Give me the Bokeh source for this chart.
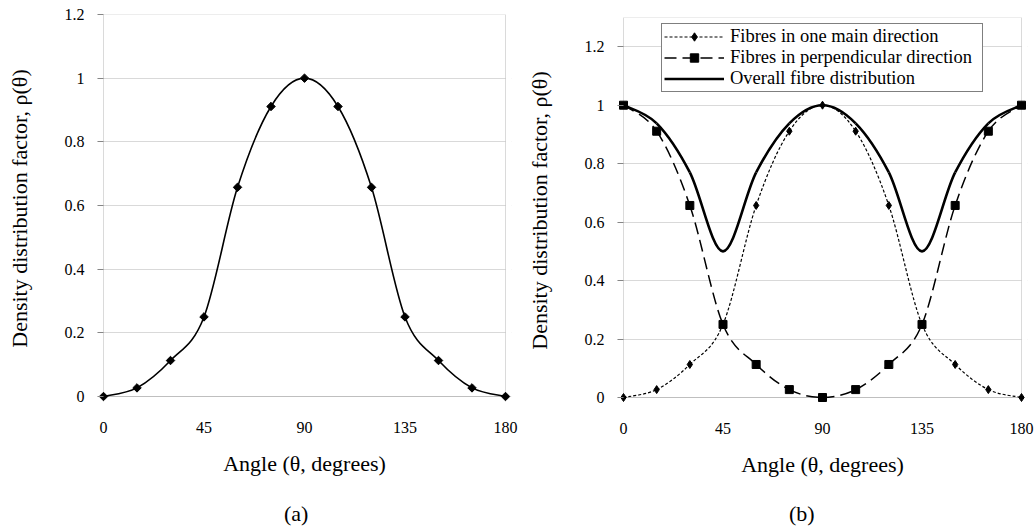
import numpy as np
from bokeh.plotting import figure
from bokeh.models import Range1d, FixedTicker, Legend, LegendItem, BoxAnnotation, Div
from bokeh.layouts import row, column
from bokeh.embed import file_html
from bokeh.resources import INLINE

# ---- data ----
angles = [0, 15, 30, 45, 60, 75, 90, 105, 120, 135, 150, 165, 180]
rho_single = [0, 0.027, 0.113, 0.25, 0.657, 0.911, 1, 0.911, 0.657, 0.25, 0.113, 0.027, 0]
rho_main = [0, 0.027, 0.113, 0.25, 0.657, 0.911, 1, 0.911, 0.657, 0.25, 0.113, 0.027, 0]
rho_perp = [1, 0.911, 0.657, 0.25, 0.113, 0.027, 0, 0.027, 0.113, 0.25, 0.657, 0.911, 1]
rho_overall = [1, 0.938, 0.77, 0.5, 0.77, 0.938, 1, 0.938, 0.77, 0.5, 0.77, 0.938, 1]

x_min, x_max = 0, 180
x_ticks = [0, 45, 90, 135, 180]
y_ticks = [0, 0.2, 0.4, 0.6, 0.8, 1.0, 1.2]
y_tick_labels = ["0", "0.2", "0.4", "0.6", "0.8", "1", "1.2"]

x_title = "Angle (\u03b8, degrees)"
y_title = "Density distribution factor, \u03c1(\u03b8)"
legend_labels = ["Fibres in one main direction",
                 "Fibres in perpendicular direction",
                 "Overall fibre distribution"]

FONT = "Liberation Serif"
GRID = "#d9d9d9"
AXIS = "#868686"
PAD = 6  # px of frame around the axes so edge markers are not cut
FIG_H = 496
CAP_H = 33


def smooth(xs, ys):
    """Catmull-Rom style Bezier segments (Excel 'smoothed line')."""
    n = len(xs)
    d = dict(x0=[], y0=[], x1=[], y1=[], cx0=[], cy0=[], cx1=[], cy1=[])
    for i in range(n - 1):
        xp, yp = (xs[i - 1], ys[i - 1]) if i > 0 else (xs[i], ys[i])
        xn, yn = (xs[i + 2], ys[i + 2]) if i + 2 < n else (xs[i + 1], ys[i + 1])
        d["x0"].append(xs[i]); d["y0"].append(ys[i])
        d["x1"].append(xs[i + 1]); d["y1"].append(ys[i + 1])
        d["cx0"].append(xs[i] + (xs[i + 1] - xp) / 6.0)
        d["cy0"].append(ys[i] + (ys[i + 1] - yp) / 6.0)
        d["cx1"].append(xs[i + 1] - (xn - xs[i]) / 6.0)
        d["cy1"].append(ys[i + 1] - (yn - ys[i]) / 6.0)
    return d


def make_fig(width, bl, bt, data_w, data_h, ymax):
    fw = data_w + 2 * PAD
    fh = data_h + PAD
    xpad = PAD * (x_max - x_min) / data_w
    ypad = PAD * ymax / data_h
    p = figure(width=width, height=FIG_H,
               x_range=Range1d(x_min - xpad, x_max + xpad),
               y_range=Range1d(-ypad, ymax),
               output_backend="svg", toolbar_location=None,
               min_border_left=bl, min_border_top=bt,
               min_border_right=width - bl - fw,
               min_border_bottom=FIG_H - bt - fh)
    p.outline_line_color = None
    p.background_fill_color = "white"
    p.border_fill_color = "white"
    p.xaxis.ticker = FixedTicker(ticks=x_ticks)
    p.yaxis.ticker = FixedTicker(ticks=y_ticks)
    p.yaxis.major_label_overrides = {t: l for t, l in zip(y_ticks, y_tick_labels)}
    for ax in (p.xaxis[0], p.yaxis[0]):
        ax.axis_line_color = None
        ax.major_tick_line_color = AXIS
        ax.minor_tick_line_color = None
        ax.major_tick_out = 0
        ax.major_label_text_font = FONT
        ax.major_label_text_font_size = "16px"
        ax.major_label_text_color = "black"
        ax.axis_label_text_font = FONT
        ax.axis_label_text_font_size = "22px"
        ax.axis_label_text_font_style = "normal"
        ax.axis_label_text_color = "black"
    p.xaxis.major_tick_in = 0
    p.xaxis.major_label_standoff = 19
    p.xaxis.axis_label = x_title
    p.xaxis.axis_label_standoff = 15
    p.yaxis.major_tick_in = PAD
    p.yaxis.major_label_standoff = 13
    p.yaxis.axis_label = y_title
    p.yaxis.axis_label_standoff = 30
    p.xgrid.visible = False
    p.ygrid.grid_line_color = GRID
    p.ygrid.grid_line_width = 1
    # hide grid stubs outside the axis box
    p.add_layout(BoxAnnotation(right=x_min, fill_color="white", fill_alpha=1,
                               line_color=None, level="underlay"))
    p.add_layout(BoxAnnotation(left=x_max, fill_color="white", fill_alpha=1,
                               line_color=None, level="underlay"))
    # plot-area border / axis lines
    p.add_layout(BoxAnnotation(left=x_min, right=x_max, bottom=0, top=ymax,
                               fill_alpha=0, line_color=AXIS, line_width=1,
                               level="underlay"))
    return p


def caption(text, width, indent):
    return Div(text=text, width=width, height=CAP_H, margin=0,
               styles={"font-family": FONT, "font-size": "22px",
                       "line-height": "36px", "color": "black",
                       "text-align": "left", "text-indent": f"{indent}px",
                       "white-space": "nowrap", "overflow": "visible"})


# ---- panel (a) ----
pa = make_fig(520, 97, 14, 402, 382, 1.2)
pa.bezier(**smooth(angles, rho_single), line_color="black", line_width=1.6)
pa.scatter(angles, rho_single, marker="square", angle=np.pi / 4, size=6,
           fill_color="black", line_color="black")

# ---- panel (b) ----
pb = make_fig(516, 97, 17, 398, 380, 1.3)
r1l = pb.bezier(**smooth(angles, rho_main), line_color="black", line_width=1.2,
                line_dash="3 2")
r1m = pb.scatter(angles, rho_main, marker="diamond", size=8,
                 fill_color="black", line_color="black")
r2l = pb.bezier(**smooth(angles, rho_perp), line_color="black", line_width=1.5,
                line_dash="12 6")
r2m = pb.scatter(angles, rho_perp, marker="square", size=8,
                 fill_color="black", line_color="black")
r3l = pb.bezier(**smooth(angles, rho_overall), line_color="black", line_width=2.6)

legend = Legend(items=[LegendItem(label=legend_labels[0], renderers=[r1l, r1m]),
                       LegendItem(label=legend_labels[1], renderers=[r2l, r2m]),
                       LegendItem(label=legend_labels[2], renderers=[r3l])],
                location="top_center", margin=6, padding=2, spacing=0,
                glyph_width=60, glyph_height=21, label_height=21,
                label_standoff=6, label_width=250,
                label_text_font=FONT, label_text_font_size="18.5px",
                label_text_color="black",
                border_line_color="black", border_line_width=1.5,
                background_fill_color="white", background_fill_alpha=1)
pb.add_layout(legend)

layout = row(column(pa, caption("(a)", 520, 284)),
             column(pb, caption("(b)", 516, 269)))
open("out.html", "w").write(file_html(layout, INLINE))
